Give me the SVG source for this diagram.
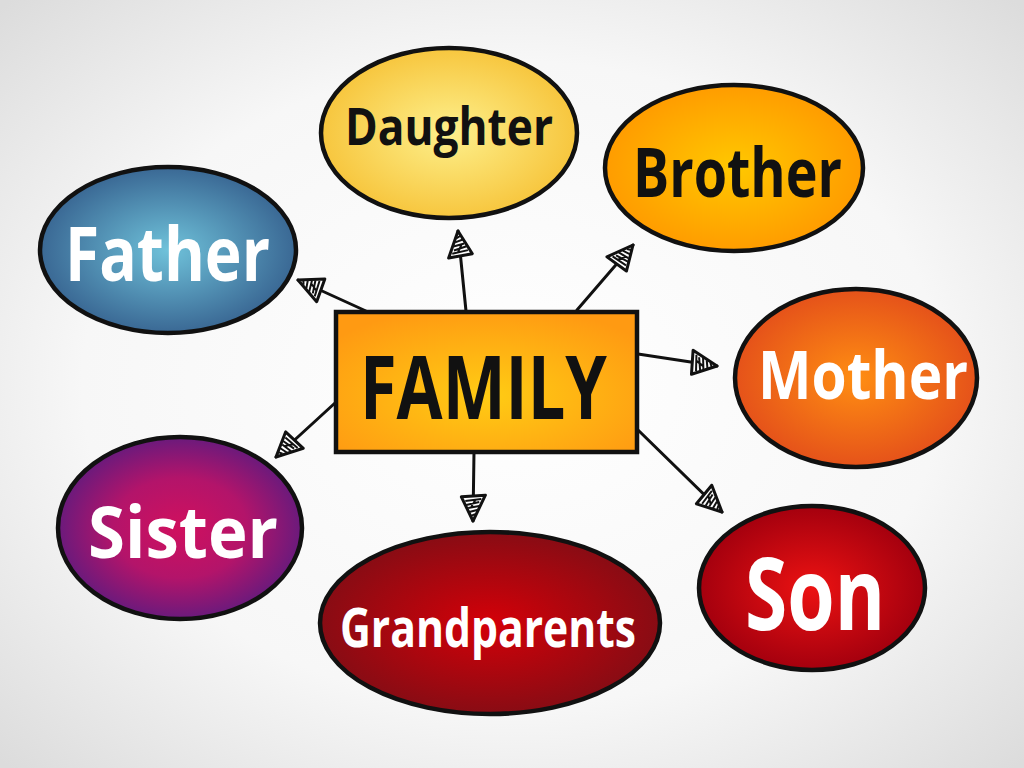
<svg xmlns="http://www.w3.org/2000/svg" width="1024" height="768" viewBox="0 0 1024 768">
<defs>
  <radialGradient id="bg" cx="50%" cy="50%" r="70%">
    <stop offset="0" stop-color="#ffffff"/>
    <stop offset="0.6" stop-color="#f7f7f7"/>
    <stop offset="1" stop-color="#dcdcdc"/>
  </radialGradient>
  <radialGradient id="gDaughter"><stop offset="0" stop-color="#fdf08c"/><stop offset="1" stop-color="#f7c63e"/></radialGradient>
  <radialGradient id="gBrother"><stop offset="0" stop-color="#ffc800"/><stop offset="1" stop-color="#ff9c00"/></radialGradient>
  <radialGradient id="gFather"><stop offset="0" stop-color="#6fc2da"/><stop offset="1" stop-color="#3a6894"/></radialGradient>
  <radialGradient id="gMother"><stop offset="0" stop-color="#ff8e12"/><stop offset="1" stop-color="#e5521a"/></radialGradient>
  <radialGradient id="gSister"><stop offset="0" stop-color="#d0105e"/><stop offset="0.55" stop-color="#b3146a"/><stop offset="1" stop-color="#6a1a7c"/></radialGradient>
  <radialGradient id="gGrand"><stop offset="0" stop-color="#d40008"/><stop offset="1" stop-color="#880c14"/></radialGradient>
  <radialGradient id="gSon"><stop offset="0" stop-color="#ec1212"/><stop offset="1" stop-color="#a4000e"/></radialGradient>
  <radialGradient id="gFamily" cx="50%" cy="60%" r="65%"><stop offset="0" stop-color="#ffcc14"/><stop offset="1" stop-color="#ff9a12"/></radialGradient>
  <marker id="ah" viewBox="-2 -15 32 30" refX="28" refY="0" markerWidth="32" markerHeight="30" markerUnits="userSpaceOnUse" orient="auto">
    <path d="M28,0 L2,-12 L4,12 Z" fill="#fff" stroke="#111" stroke-width="3" stroke-linejoin="round"/>
    <path d="M6,-8 L8,8 M9,-6 L12,7 M13,-6 L15,5 M17,-4 L19,4 M21,-2 L23,2 M7,-2 L14,2" stroke="#111" stroke-width="2" fill="none"/>
  </marker>
  <style>
    .node { stroke: #111; stroke-width: 4.5; }
    .lbl { font-family: "Open Sans", "Liberation Sans", sans-serif; font-weight: 700; text-anchor: start; }
    .dark { fill: #111; }
    .light { fill: #ffffff; }
    .conn { stroke: #111; stroke-width: 3; fill: none; stroke-linecap: round; marker-end: url(#ah); }
  </style>
</defs>
<rect x="0" y="0" width="1024" height="768" fill="url(#bg)"/>

<g id="connectors">
  <line class="conn" x1="466" y1="311" x2="458" y2="231"/>
  <line class="conn" x1="577" y1="310" x2="633" y2="245"/>
  <line class="conn" x1="366" y1="311" x2="298" y2="280"/>
  <line class="conn" x1="638" y1="354" x2="717" y2="366"/>
  <line class="conn" x1="638" y1="430" x2="722" y2="512"/>
  <line class="conn" x1="474" y1="452" x2="473" y2="521"/>
  <line class="conn" x1="335" y1="403" x2="276" y2="457"/>
</g>

<g id="family">
  <rect class="node" x="336" y="312" width="301" height="140" fill="url(#gFamily)"/>
  <text class="lbl dark" x="360" y="419" font-size="88" textLength="247" lengthAdjust="spacingAndGlyphs">FAMILY</text>
</g>

<g id="daughter">
  <ellipse class="node" cx="449" cy="133" rx="128" ry="85" fill="url(#gDaughter)"/>
  <text class="lbl dark" x="345" y="145" font-size="52" textLength="208" lengthAdjust="spacingAndGlyphs">Daughter</text>
</g>

<g id="brother">
  <ellipse class="node" cx="734" cy="168" rx="129" ry="83" fill="url(#gBrother)"/>
  <text class="lbl dark" x="633" y="197" font-size="68" textLength="209" lengthAdjust="spacingAndGlyphs">Brother</text>
</g>

<g id="father">
  <ellipse class="node" cx="168" cy="250" rx="128" ry="83" fill="url(#gFather)"/>
  <text class="lbl light" x="65" y="281" font-size="76" textLength="205" lengthAdjust="spacingAndGlyphs">Father</text>
</g>

<g id="mother">
  <ellipse class="node" cx="856" cy="378" rx="121" ry="89" fill="url(#gMother)"/>
  <text class="lbl light" x="758" y="399" font-size="66" textLength="210" lengthAdjust="spacingAndGlyphs">Mother</text>
</g>

<g id="sister">
  <ellipse class="node" cx="180" cy="528" rx="122" ry="91" fill="url(#gSister)"/>
  <text class="lbl light" x="88" y="558" font-size="72" textLength="190" lengthAdjust="spacingAndGlyphs">Sister</text>
</g>

<g id="son">
  <ellipse class="node" cx="812" cy="588" rx="113" ry="82" fill="url(#gSon)"/>
  <text class="lbl light" x="745" y="630" font-size="100" textLength="140" lengthAdjust="spacingAndGlyphs">Son</text>
</g>

<g id="grandparents">
  <ellipse class="node" cx="490" cy="623" rx="170" ry="91" fill="url(#gGrand)"/>
  <text class="lbl light" x="340" y="647" font-size="54" textLength="296" lengthAdjust="spacingAndGlyphs">Grandparents</text>
</g>
</svg>
